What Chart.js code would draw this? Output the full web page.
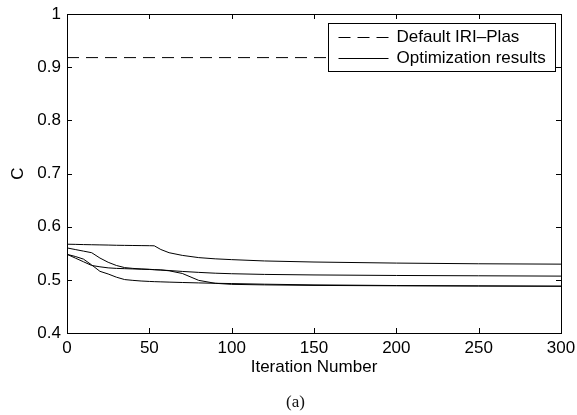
<!DOCTYPE html>
<html lang="en">
<head>
  <meta charset="UTF-8" />
  <title>C vs Iteration Number</title>
  <script src="https://cdn.jsdelivr.net/npm/chart.js"></script>
  <style>
    body {
      margin: 0;
      background: #fff;
    }
    .wrap {
      position: relative;
      width: 577px;
      height: 415px;
    }
    .caption {
      position: absolute;
      left: 286px;
      top: 393px;
      font-family: "Liberation Serif", "DejaVu Serif", serif;
      font-size: 17px;
      line-height: 17px;
      color: #111;
    }
  </style>
</head>
<body>
  <div class="wrap">
    <canvas id="cChart"></canvas>
    <div class="caption">(a)</div>
  </div>
  <script>
    // values
    const iterations = [0, 5, 10, 15, 20, 25, 30, 35, 40, 45, 50, 53, 57, 62, 70, 80, 90, 100, 120, 150, 200, 250, 300];
    const runA = [0.567, 0.5667, 0.5663, 0.566, 0.5657, 0.5654, 0.565, 0.5648, 0.5646, 0.5644, 0.5642, 0.564, 0.557, 0.551, 0.546, 0.5418, 0.5395, 0.538, 0.5355, 0.5335, 0.5315, 0.5302, 0.5295];
    const runB = [0.560, 0.557, 0.554, 0.551, 0.541, 0.533, 0.527, 0.523, 0.5215, 0.5205, 0.5198, 0.5192, 0.5185, 0.517, 0.512, 0.499, 0.4935, 0.4915, 0.4905, 0.4895, 0.4888, 0.4884, 0.488];
    const runC = [0.548, 0.541, 0.534, 0.527, 0.5245, 0.5225, 0.5215, 0.521, 0.5205, 0.52, 0.5195, 0.519, 0.5185, 0.5175, 0.5158, 0.514, 0.5125, 0.5115, 0.5102, 0.5092, 0.5082, 0.5076, 0.507];
    const runD = [0.548, 0.544, 0.539, 0.528, 0.516, 0.511, 0.505, 0.5005, 0.499, 0.4978, 0.497, 0.4966, 0.4962, 0.4957, 0.495, 0.4942, 0.4935, 0.493, 0.4918, 0.4905, 0.4893, 0.4886, 0.488];
    const defaultRange = [0, 300];
    const defaultC = [0.918, 0.918];
    const xTicks = [0, 50, 100, 150, 200, 250, 300];
    const yTicks = [0.4, 0.5, 0.6, 0.7, 0.8, 0.9, 1];
    const legendLabels = ["Default IRI\u2013Plas", "Optimization results"];

    const FONT = "'Liberation Sans', Arial, sans-serif";

    const toPoints = (xs, ys) => xs.map((x, i) => ({ x: x, y: ys[i] }));
    const runs = [runA, runB, runC, runD];

    const datasets = [{
      label: legendLabels[0],
      data: toPoints(defaultRange, defaultC),
      borderColor: "#000",
      borderWidth: 1,
      borderDash: [12, 7],
      pointRadius: 0
    }];
    runs.forEach(r => {
      datasets.push({
        label: legendLabels[1],
        data: toPoints(iterations, r),
        borderColor: "#000",
        borderWidth: 1,
        pointRadius: 0,
        tension: 0
      });
    });

    // box, inward ticks on all four sides, and the legend
    const framePlugin = {
      id: "frame",
      afterDatasetsDraw(chart) {
        const { ctx, chartArea: a, scales } = chart;
        ctx.save();
        ctx.strokeStyle = "#000";
        ctx.lineWidth = 1;
        ctx.strokeRect(Math.round(a.left) + 0.5, Math.round(a.top) + 0.5,
          Math.round(a.right - a.left), Math.round(a.bottom - a.top));
        const len = 5;
        ctx.beginPath();
        xTicks.forEach(v => {
          const px = Math.round(scales.x.getPixelForValue(v)) + 0.5;
          ctx.moveTo(px, a.bottom); ctx.lineTo(px, a.bottom - len);
          ctx.moveTo(px, a.top); ctx.lineTo(px, a.top + len);
        });
        yTicks.forEach(v => {
          const py = Math.round(scales.y.getPixelForValue(v)) + 0.5;
          ctx.moveTo(a.left, py); ctx.lineTo(a.left + len, py);
          ctx.moveTo(a.right, py); ctx.lineTo(a.right - len, py);
        });
        ctx.stroke();

        // legend
        const bx = Math.round(a.right - 233) + 0.5, by = Math.round(a.top + 9) + 0.5;
        const bw = 227, bh = 48;
        ctx.fillStyle = "#fff";
        ctx.fillRect(bx, by, bw, bh);
        ctx.strokeRect(bx, by, bw, bh);
        ctx.font = "17px " + FONT;
        ctx.fillStyle = "#000";
        ctx.textBaseline = "middle";
        const rows = [by + 13, by + 34];
        rows.forEach((ry, i) => {
          const yy = Math.round(ry) + 0.5;
          ctx.setLineDash(i === 0 ? [12, 7] : []);
          ctx.beginPath();
          ctx.moveTo(bx + 10, yy);
          ctx.lineTo(bx + 60, yy);
          ctx.stroke();
          ctx.setLineDash([]);
          ctx.fillText(legendLabels[i], bx + 68, ry + 1);
        });
        ctx.restore();
      }
    };

    new Chart(document.getElementById("cChart"), {
      type: "line",
      data: { datasets: datasets },
      options: {
        responsive: true,
        maintainAspectRatio: false,
        animation: false,
        layout: { padding: { top: 14, right: 16, left: 0, bottom: 32 } },
        plugins: {
          legend: { display: false },
          tooltip: { enabled: false }
        },
        scales: {
          x: {
            type: "linear",
            min: 0,
            max: 300,
            afterBuildTicks: s => { s.ticks = xTicks.map(v => ({ value: v })); },
            afterFit: s => { s.height = 50; s.paddingLeft = 0; s.paddingRight = 0; },
            grid: { display: false, drawTicks: false },
            border: { display: false },
            ticks: {
              padding: 5,
              color: "#000",
              maxRotation: 0,
              font: { family: FONT, size: 17 }
            },
            title: {
              display: true,
              text: "Iteration Number",
              color: "#000",
              padding: { top: 0, bottom: 5 },
              font: { family: FONT, size: 17 }
            }
          },
          y: {
            min: 0.4,
            max: 1,
            afterBuildTicks: s => { s.ticks = yTicks.map(v => ({ value: v })); },
            afterFit: s => { s.width = 67; s.paddingTop = 0; s.paddingBottom = 0; },
            grid: { display: false, drawTicks: false },
            border: { display: false },
            ticks: {
              padding: 6,
              color: "#000",
              font: { family: FONT, size: 17 },
              callback: v => String(Math.round(v * 10) / 10)
            },
            title: {
              display: true,
              text: "C",
              color: "#000",
              padding: { top: 8, bottom: 0 },
              font: { family: FONT, size: 17 }
            }
          }
        }
      },
      plugins: [framePlugin]
    });
  </script>
</body>
</html>
